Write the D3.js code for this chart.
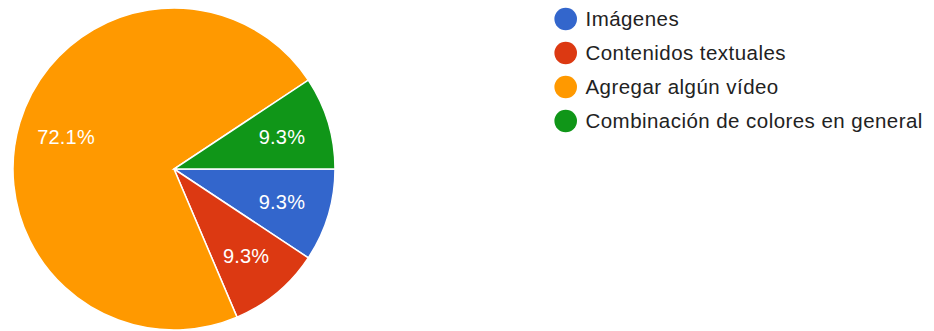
<!DOCTYPE html>
<html><head><meta charset="utf-8">
<script src="https://cdn.jsdelivr.net/npm/d3@7"></script>
<style>html,body{margin:0;padding:0;background:#fff;}svg{display:block;}</style>
</head><body>
<svg id="chart" width="934" height="331"></svg>
<script>
const categories = ["Imágenes", "Contenidos textuales", "Agregar algún vídeo", "Combinación de colores en general"];
const values = [9.3, 9.3, 72.1, 9.3];
const labels = ["9.3%", "9.3%", "72.1%", "9.3%"];
const colors = ["#3366cc", "#dc3912", "#ff9900", "#109618"];

const svg = d3.select("#chart");
const cx = 174, cy = 169, R = 161;
const font = "Liberation Sans, Arial, sans-serif";

const pie = d3.pie().sort(null).value(d => d)
  .startAngle(Math.PI / 2).endAngle(Math.PI / 2 + 2 * Math.PI);
const arcs = pie(values);
const arc = d3.arc().innerRadius(0).outerRadius(R);
const labelArc = d3.arc().innerRadius(R * 0.7).outerRadius(R * 0.7);

const g = svg.append("g").attr("transform", `translate(${cx},${cy})`);
g.selectAll("path").data(arcs).enter().append("path")
  .attr("d", arc)
  .attr("fill", (d, i) => colors[i])
  .attr("stroke", "#fff").attr("stroke-width", 1.5);

g.selectAll("text").data(arcs).enter().append("text")
  .attr("transform", d => `translate(${labelArc.centroid(d)})`)
  .attr("text-anchor", "middle").attr("dy", "0.36em")
  .attr("fill", "#fff").attr("font-family", font).attr("font-size", 20)
  .attr("letter-spacing", 0.2)
  .text((d, i) => labels[i]);

const legendY = d3.scaleBand().domain(categories).range([2, 138]);
const lg = svg.append("g");
const items = lg.selectAll("g").data(categories).enter().append("g")
  .attr("transform", d => `translate(0,${legendY(d) + legendY.bandwidth() / 2})`);
items.append("circle").attr("cx", 565.7).attr("cy", 0).attr("r", 11.3)
  .attr("fill", (d, i) => colors[i]);
items.append("text").attr("x", 585.5).attr("dy", "0.36em")
  .attr("font-family", font).attr("font-size", 20.5).attr("fill", "#222")
  .attr("letter-spacing", 0.45)
  .text(d => d);
</script>
</body></html>
